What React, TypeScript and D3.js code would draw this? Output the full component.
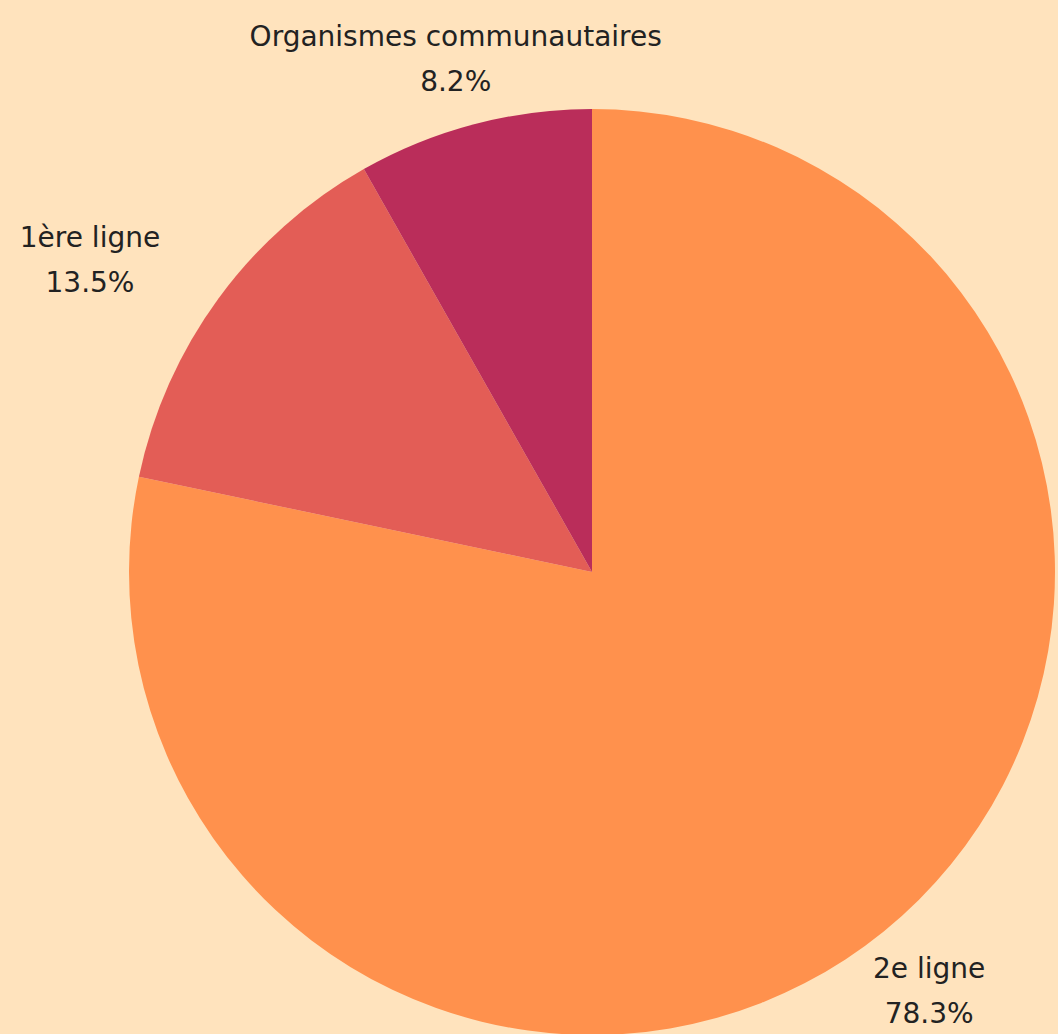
import React, { useEffect, useRef } from "react";
import * as d3 from "d3";

const categories = ["2e ligne", "1ère ligne", "Organismes communautaires"];
const values = [78.3, 13.5, 8.2];
const colors = ["#FF914D", "#E35D56", "#BA2D5A"];

const App: React.FC = () => {
  const svgRef = useRef<SVGSVGElement>(null);

  useEffect(() => {
    const width = 1058;
    const height = 1034;
    const cx = 592;
    const cy = 572;
    const radius = 463;
    const labelRadius = 535;

    document.body.style.margin = "0";
    d3.select(svgRef.current).selectAll("*").remove();
    const svg = d3
      .select(svgRef.current)
      .attr("width", width)
      .attr("height", height)
      .style("display", "block");

    svg
      .append("rect")
      .attr("width", width)
      .attr("height", height)
      .attr("fill", "#FFE3BD");

    const data = categories.map((name, i) => ({ name, value: values[i], color: colors[i] }));
    const pie = d3
      .pie<{ name: string; value: number; color: string }>()
      .sort(null)
      .value((d) => d.value);
    const arcs = pie(data);

    const arc = d3
      .arc<d3.PieArcDatum<{ name: string; value: number; color: string }>>()
      .innerRadius(0)
      .outerRadius(radius);

    const g = svg.append("g").attr("transform", `translate(${cx},${cy})`);

    g.selectAll("path")
      .data(arcs)
      .enter()
      .append("path")
      .attr("d", arc)
      .attr("fill", (d) => d.data.color);

    // labels outside the slices, two lines, centred
    const labels = g
      .selectAll(".label")
      .data(arcs)
      .enter()
      .append("text")
      .attr("class", "label")
      .attr("font-family", "'DejaVu Sans', sans-serif")
      .attr("font-size", "28px")
      .attr("fill", "#222")
      .attr("text-anchor", "middle");

    labels
      .append("tspan")
      .attr("x", 0)
      .attr("dy", 0)
      .text((d) => d.data.name);

    labels
      .append("tspan")
      .attr("x", 0)
      .attr("dy", 45)
      .text((d) => `${d.data.value}%`);

    // left-side labels end at the anchor point
    labels.attr("transform", function (d) {
      const a = (d.startAngle + d.endAngle) / 2;
      let x = labelRadius * Math.sin(a);
      const y = -labelRadius * Math.cos(a) - 9;
      if (Math.sin(a) < -0.7) {
        const w = (this as SVGTextElement).getBBox().width;
        x -= w / 2;
      }
      return `translate(${x},${y})`;
    });
  }, []);

  return <svg ref={svgRef}></svg>;
};

export default App;
